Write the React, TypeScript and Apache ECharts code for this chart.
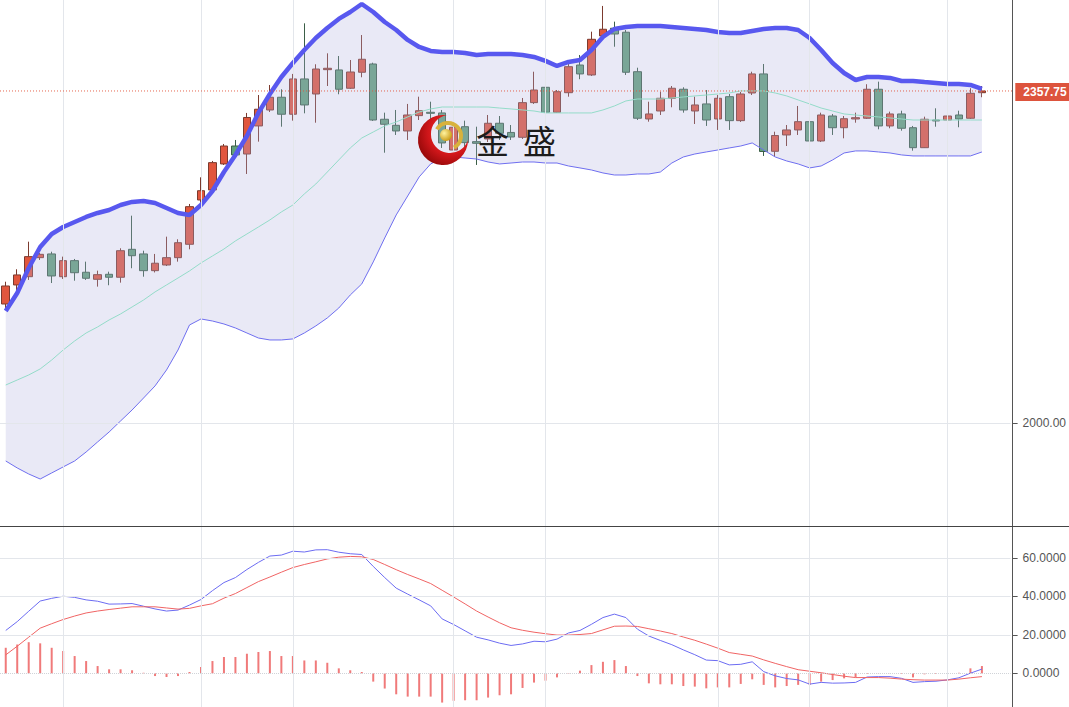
import React, { useEffect, useRef } from 'react';
import * as echarts from 'echarts';

// ---------- data ----------
const categories: string[] = [
  '1','2','3','4','5','6','7','8','9','10','11','12','13','14','15','16','17','18','19','20',
  '21','22','23','24','25','26','27','28','29','30','31','32','33','34','35','36','37','38','39','40',
  '41','42','43','44','45','46','47','48','49','50','51','52','53','54','55','56','57','58','59','60',
  '61','62','63','64','65','66','67','68','69','70','71','72','73','74','75','76','77','78','79','80',
  '81','82','83','84','85','86','87','88',
];

// [open, close, low, high]
const candles: number[][] = [
  [2128.4, 2147.8, 2124.1, 2152.4], [2148.9, 2159.7, 2143.5, 2165.8], [2157.8, 2179.4, 2154.3, 2195.5],
  [2178.3, 2181.9, 2175.8, 2183.3], [2182.3, 2158.6, 2151.0, 2184.7], [2157.8, 2175.1, 2155.4, 2179.4],
  [2175.1, 2162.1, 2153.5, 2176.9], [2162.6, 2156.1, 2154.3, 2174.0], [2155.0, 2160.0, 2147.1, 2164.3],
  [2160.4, 2157.2, 2148.6, 2163.2], [2157.2, 2185.8, 2151.4, 2188.4], [2187.3, 2180.4, 2166.9, 2223.5],
  [2182.3, 2164.3, 2157.8, 2185.8], [2164.3, 2172.3, 2162.4, 2182.3], [2170.4, 2178.3, 2169.3, 2200.9],
  [2178.3, 2194.4, 2174.0, 2198.1], [2192.7, 2233.2, 2187.3, 2236.1], [2240.4, 2250.4, 2237.2, 2264.8],
  [2251.2, 2280.6, 2250.1, 2282.4], [2279.2, 2298.5, 2278.1, 2300.7], [2298.5, 2288.9, 2286.7, 2305.0],
  [2289.9, 2329.2, 2268.4, 2334.1], [2320.1, 2338.1, 2303.2, 2353.4], [2337.3, 2351.0, 2335.1, 2364.2],
  [2351.0, 2332.7, 2319.3, 2359.6], [2332.7, 2370.7, 2325.8, 2376.1], [2370.7, 2342.7, 2333.7, 2430.6],
  [2354.5, 2381.4, 2323.6, 2386.5], [2380.7, 2382.2, 2363.1, 2398.3], [2380.4, 2359.6, 2354.2, 2395.4],
  [2360.7, 2378.2, 2359.9, 2391.1], [2377.9, 2391.9, 2372.5, 2418.0], [2386.8, 2326.5, 2325.5, 2388.2],
  [2327.3, 2321.9, 2291.3, 2334.4], [2320.8, 2314.7, 2310.4, 2337.3], [2314.7, 2331.9, 2305.0, 2343.8],
  [2331.2, 2336.5, 2326.5, 2351.6], [2334.8, 2333.7, 2321.1, 2346.2], [2334.1, 2301.8, 2296.4, 2337.3],
  [2294.2, 2318.7, 2285.6, 2324.4], [2319.3, 2302.1, 2294.2, 2325.8], [2303.2, 2301.4, 2278.1, 2319.3],
  [2306.1, 2323.0, 2302.8, 2331.9], [2323.0, 2312.2, 2305.0, 2330.8], [2313.1, 2308.2, 2305.0, 2321.1],
  [2307.9, 2345.2, 2306.1, 2350.2], [2345.2, 2358.8, 2343.8, 2378.5], [2361.7, 2334.8, 2331.9, 2364.2],
  [2334.8, 2357.0, 2334.1, 2358.8], [2355.9, 2383.9, 2351.6, 2389.0], [2385.7, 2376.1, 2370.4, 2396.5],
  [2375.0, 2413.4, 2373.9, 2421.6], [2417.0, 2424.2, 2415.9, 2449.3], [2425.3, 2419.1, 2405.4, 2432.4],
  [2421.0, 2377.9, 2375.0, 2423.4], [2378.5, 2328.4, 2326.5, 2382.8], [2327.6, 2333.0, 2324.7, 2346.2],
  [2336.2, 2349.9, 2331.9, 2357.0], [2349.9, 2360.7, 2340.2, 2363.1], [2359.6, 2337.3, 2334.4, 2361.7],
  [2336.2, 2342.7, 2322.2, 2351.6], [2343.8, 2326.5, 2320.1, 2358.8], [2327.6, 2349.9, 2315.8, 2353.4],
  [2351.6, 2325.8, 2315.8, 2354.5], [2325.8, 2354.5, 2324.4, 2356.7], [2355.6, 2376.1, 2353.4, 2378.5],
  [2376.1, 2292.6, 2287.8, 2386.8], [2292.8, 2309.8, 2287.2, 2313.9], [2310.4, 2315.8, 2298.5, 2321.1],
  [2315.8, 2324.7, 2310.4, 2341.6], [2324.7, 2303.9, 2295.0, 2326.5], [2303.9, 2331.9, 2302.8, 2334.4],
  [2330.8, 2318.2, 2310.4, 2333.0], [2318.2, 2327.9, 2306.8, 2330.8], [2327.6, 2329.0, 2323.6, 2334.4],
  [2328.4, 2359.6, 2327.6, 2365.0], [2359.6, 2320.1, 2316.5, 2367.8], [2320.1, 2333.0, 2317.6, 2335.5],
  [2333.0, 2317.6, 2315.0, 2336.5], [2318.2, 2296.7, 2293.5, 2320.1], [2296.7, 2327.3, 2296.4, 2330.1],
  [2326.5, 2325.5, 2319.3, 2339.1], [2326.5, 2330.8, 2318.7, 2337.3], [2331.9, 2327.6, 2318.7, 2336.5],
  [2328.4, 2355.3, 2327.6, 2360.7], [2355.9, 2357.75, 2351.0, 2363.1],
];

const bollUpper: number[] = [
  2120.9, 2140.3, 2167.2, 2189.8, 2203.8, 2211.3, 2216.7, 2222.1, 2226.4, 2229.6,
  2235.0, 2238.3, 2239.3, 2237.2, 2231.8, 2226.4, 2224.3, 2235.0, 2250.1, 2270.5,
  2288.9, 2309.3, 2334.1, 2354.5, 2372.8, 2387.9, 2401.9, 2414.8, 2425.6, 2435.3,
  2442.8, 2451.4, 2442.8, 2432.0, 2423.4, 2412.7, 2405.1, 2400.8, 2399.7, 2399.7,
  2398.7, 2396.5, 2397.6, 2397.6, 2397.6, 2396.5, 2394.4, 2390.1, 2384.7, 2389.0,
  2391.1, 2401.9, 2415.9, 2424.5, 2426.7, 2427.7, 2427.7, 2427.7, 2426.7, 2425.6,
  2424.5, 2423.4, 2421.3, 2420.2, 2420.2, 2422.4, 2424.5, 2425.6, 2425.6, 2423.4,
  2414.8, 2401.9, 2387.9, 2377.1, 2369.6, 2372.8, 2372.8, 2371.8, 2368.5, 2368.5,
  2367.4, 2366.4, 2365.3, 2365.3, 2364.2, 2359.9,
];

const bollMiddle: number[] = [
  2041.2, 2046.6, 2052.0, 2058.5, 2068.1, 2078.9, 2088.6, 2097.2, 2103.7, 2111.2,
  2117.7, 2125.2, 2132.7, 2141.4, 2148.9, 2156.4, 2164.0, 2172.6, 2180.1, 2187.6,
  2196.3, 2203.8, 2211.3, 2218.9, 2227.5, 2235.0, 2246.9, 2257.6, 2270.5, 2283.5,
  2296.4, 2307.1, 2313.6, 2320.1, 2324.4, 2329.8, 2335.1, 2338.4, 2340.5, 2340.5,
  2340.5, 2340.5, 2340.5, 2339.4, 2338.4, 2337.3, 2336.2, 2334.1, 2334.1, 2334.1,
  2334.1, 2334.1, 2337.3, 2341.6, 2347.0, 2349.1, 2349.1, 2349.1, 2350.2, 2351.3,
  2352.4, 2353.4, 2354.5, 2355.6, 2357.8, 2357.8, 2357.8, 2355.6, 2352.4, 2348.1,
  2343.8, 2339.4, 2336.2, 2333.0, 2331.9, 2330.8, 2329.8, 2328.7, 2327.6, 2326.5,
  2326.5, 2326.5, 2326.5, 2326.5, 2326.5, 2326.5,
];

const bollLower: number[] = [
  1959.4, 1951.9, 1945.4, 1940.0, 1946.5, 1953.0, 1959.4, 1969.1, 1979.9, 1990.6,
  2002.5, 2014.3, 2027.2, 2040.2, 2057.4, 2078.9, 2105.8, 2112.3, 2110.1, 2106.9,
  2102.6, 2097.2, 2091.8, 2089.7, 2089.7, 2090.8, 2097.2, 2104.8, 2113.4, 2124.1,
  2138.1, 2150.0, 2173.7, 2199.5, 2224.3, 2244.7, 2265.2, 2279.2, 2285.6, 2286.7,
  2285.6, 2284.5, 2281.3, 2279.2, 2280.2, 2281.3, 2281.3, 2280.2, 2280.2, 2277.0,
  2274.9, 2272.7, 2269.5, 2267.3, 2267.3, 2268.4, 2268.4, 2270.5, 2280.2, 2286.7,
  2289.9, 2292.1, 2294.2, 2296.4, 2298.5, 2301.8, 2294.2, 2286.7, 2282.4, 2279.2,
  2274.9, 2277.0, 2283.5, 2291.0, 2293.2, 2293.2, 2292.1, 2291.0, 2288.9, 2287.8,
  2287.8, 2287.8, 2287.8, 2287.8, 2287.8, 2292.1,
];

const macdDif: number[] = [
  22.3, 26.9, 32.3, 37.6, 39.0, 40.1, 39.5, 38.2, 37.5, 36.0,
  36.1, 36.3, 34.9, 33.5, 32.4, 32.9, 35.5, 38.4, 43.0, 47.2,
  49.8, 54.0, 57.7, 61.0, 61.5, 63.5, 63.1, 64.2, 64.3, 63.0,
  62.2, 61.8, 55.6, 49.8, 44.3, 41.2, 38.2, 35.1, 28.3, 25.4,
  22.1, 18.8, 17.4, 15.7, 14.5, 15.3, 16.7, 16.4, 17.8, 21.0,
  22.3, 25.5, 29.0, 30.8, 29.0, 23.0, 19.4, 17.1, 14.9, 12.2,
  9.7, 6.9, 6.6, 4.4, 4.7, 6.0, 0.9, -1.3, -2.7, -3.4,
  -5.6, -4.7, -5.1, -5.0, -4.7, -1.9, -1.7, -1.7, -2.6, -4.7,
  -4.3, -4.1, -3.4, -2.3, 0.1, 2.2,
];

const macdDea: number[] = [
  9.6, 14.1, 18.8, 23.5, 25.8, 28.0, 29.8, 31.4, 32.4, 33.2,
  33.9, 34.6, 34.6, 34.6, 34.0, 33.4, 33.8, 35.1, 36.2, 39.1,
  41.5, 44.6, 47.7, 50.1, 52.6, 55.0, 56.6, 58.0, 59.5, 60.4,
  60.8, 60.6, 59.2, 56.6, 53.9, 51.4, 49.1, 46.7, 43.2, 39.7,
  36.1, 32.4, 29.3, 26.3, 23.7, 22.4, 21.4, 20.6, 19.9, 19.9,
  20.2, 20.7, 22.6, 24.5, 24.6, 24.4, 23.2, 22.0, 20.7, 18.9,
  17.2, 15.2, 13.1, 10.8, 9.9, 9.0, 7.0, 5.2, 3.5, 1.9,
  1.1, 0.3, -0.6, -1.5, -2.2, -2.2, -2.2, -2.5, -3.0, -3.3,
  -3.5, -3.5, -3.5, -3.0, -2.3, -1.7,
];

const macdHist: number[] = [
  13.3, 15.0, 16.2, 15.6, 13.3, 11.6, 9.0, 6.4, 3.8, 2.1,
  2.1, 1.6, 0.3, -1.4, -1.9, -1.4, 0.7, 3.3, 6.4, 8.5,
  8.5, 10.2, 11.1, 11.6, 9.0, 9.0, 6.7, 6.7, 5.5, 2.6,
  1.6, 0.7, -4.3, -7.9, -10.9, -12.1, -12.1, -12.1, -15.2, -14.3,
  -14.0, -14.0, -12.6, -11.4, -10.9, -7.6, -4.8, -3.8, -2.1, -0.3,
  1.4, 4.3, 6.0, 6.9, 3.8, -1.4, -5.2, -5.7, -5.7, -6.6,
  -6.9, -7.8, -7.3, -7.3, -5.5, -3.1, -6.0, -7.3, -6.6, -6.0,
  -6.0, -4.3, -3.5, -2.6, -2.1, -0.3, 0.1, 0.1, -0.3, -2.1,
  -0.5, -0.3, 0.1, 0.3, 2.6, 3.8,
];

const lastPrice = 2357.75;
const priceTicks: number[] = [2000];
const macdTicks: number[] = [0, 20, 40, 60];
const macdGridLines: number[] = [20, 40, 60];
const verticalGridIdx: number[] = [5, 17, 25, 39, 47, 62, 70, 82];

const CRESCENT = 'M28.74 0.29 A25 25 0 1 0 50 25 A19 19 0 1 1 28.74 0.29 Z';
const FONT = '"Liberation Sans", Arial, sans-serif';
const PRICE_RED = '#e2573d';

export default function App() {
  const ref = useRef<HTMLDivElement>(null);

  useEffect(() => {
    if (!ref.current) return;
    echarts.graphic.registerShape('logo', echarts.graphic.extendPath(CRESCENT, {}));
    const chart = echarts.init(ref.current, null, { renderer: 'svg' });

    const bandWidth = bollUpper.map((u, i) => +(u - bollLower[i]).toFixed(2));
    const vLines = verticalGridIdx.map((i) => ({ xAxis: i }));
    const gridLineStyle = { color: '#e3e6eb', width: 1, type: 'solid' };

    const gridLeft = -1.6;
    const gridWidth = 1012.9;

    const option: any = {
      animation: false,
      backgroundColor: '#ffffff',
      grid: [
        { left: gridLeft, top: 0, width: gridWidth, height: 526 },
        { left: gridLeft, top: 527, width: gridWidth, height: 180 },
      ],
      xAxis: [
        { type: 'category', gridIndex: 0, data: categories, boundaryGap: true, show: false },
        { type: 'category', gridIndex: 1, data: categories, boundaryGap: true, show: false },
      ],
      yAxis: [
        {
          type: 'value', gridIndex: 0, position: 'right', offset: 2,
          min: 1889.4, max: 2455.7,
          axisLine: { show: true, lineStyle: { color: '#555555', width: 1 } },
          axisTick: { show: true, length: 5, customValues: priceTicks, lineStyle: { color: '#555555' } },
          axisLabel: {
            customValues: priceTicks, margin: 10, color: '#555555', fontSize: 12, fontFamily: FONT,
            formatter: (v: number) => v.toFixed(2),
          },
          splitLine: { show: false },
        },
        {
          type: 'value', gridIndex: 1, position: 'right', offset: 2,
          min: -17.5, max: 76.1,
          axisLine: { show: true, lineStyle: { color: '#555555', width: 1 } },
          axisTick: { show: true, length: 5, customValues: macdTicks, lineStyle: { color: '#555555' } },
          axisLabel: {
            customValues: macdTicks, margin: 10, color: '#555555', fontSize: 12, fontFamily: FONT,
            formatter: (v: number) => v.toFixed(4),
          },
          splitLine: { show: false },
        },
      ],
      series: [
        {
          name: 'bandBase', type: 'line', xAxisIndex: 0, yAxisIndex: 0, data: bollLower,
          stack: 'boll', symbol: 'none', silent: true, lineStyle: { opacity: 0 },
        },
        {
          name: 'bandFill', type: 'line', xAxisIndex: 0, yAxisIndex: 0, data: bandWidth,
          stack: 'boll', symbol: 'none', silent: true, lineStyle: { opacity: 0 },
          areaStyle: { color: 'rgba(178,178,224,0.41)' },
        },
        {
          name: 'MID', type: 'line', xAxisIndex: 0, yAxisIndex: 0, data: bollMiddle,
          symbol: 'none', silent: true, lineStyle: { color: '#94dcc9', width: 1 },
          markLine: {
            silent: true, symbol: 'none', label: { show: false }, lineStyle: gridLineStyle,
            data: [...vLines, ...priceTicks.map((v) => ({ yAxis: v }))],
          },
        },
        {
          name: 'LOWER', type: 'line', xAxisIndex: 0, yAxisIndex: 0, data: bollLower,
          symbol: 'none', silent: true, lineStyle: { color: '#6f6ff0', width: 1 },
        },
        {
          name: 'UPPER', type: 'line', xAxisIndex: 0, yAxisIndex: 0, data: bollUpper,
          symbol: 'none', silent: true, lineStyle: { color: '#5858ef', width: 4.5 },
        },
        {
          name: 'K', type: 'candlestick', xAxisIndex: 0, yAxisIndex: 0, data: candles,
          barWidth: 8,
          itemStyle: {
            color: '#e1563d', color0: '#62a27b',
            borderColor: '#7c3a2e', borderColor0: '#3b5f47', borderWidth: 1,
          },
        },
        {
          name: 'MACD', type: 'bar', xAxisIndex: 1, yAxisIndex: 1, data: macdHist,
          barWidth: 2, silent: true, itemStyle: { color: '#f07a7a' },
          markLine: {
            silent: true, symbol: 'none', label: { show: false }, lineStyle: gridLineStyle,
            data: [
              ...vLines,
              ...macdGridLines.map((v) => ({ yAxis: v })),
              { yAxis: 0, lineStyle: { color: '#d0d3d8', type: 'dotted', width: 1 } },
            ],
          },
        },
        {
          name: 'DIF', type: 'line', xAxisIndex: 1, yAxisIndex: 1, data: macdDif,
          symbol: 'none', silent: true, lineStyle: { color: '#6c6cf2', width: 1 },
        },
        {
          name: 'DEA', type: 'line', xAxisIndex: 1, yAxisIndex: 1, data: macdDea,
          symbol: 'none', silent: true, lineStyle: { color: '#f06464', width: 1 },
        },
      ],
    };

    chart.setOption(option);

    // price level position from the library's own scale
    const py = chart.convertToPixel({ yAxisIndex: 0 }, lastPrice) as number;
    const axisX = gridLeft + gridWidth + 2;

    chart.setOption({
      graphic: [
        {
          type: 'line', silent: true, z: 40,
          shape: { x1: 0, y1: py, x2: axisX, y2: py },
          style: { stroke: PRICE_RED, lineWidth: 1, lineDash: [1, 2], opacity: 0.9 },
        },
        {
          type: 'text', silent: true, z: 41, x: axisX + 2, y: py + 1,
          style: {
            text: lastPrice.toFixed(2), fill: '#ffffff', fontSize: 12, fontWeight: 'bold',
            fontFamily: FONT, align: 'left', verticalAlign: 'middle',
            backgroundColor: '#dd543d', padding: [3, 8, 3, 8],
          },
        },
        {
          type: 'line', silent: true, z: 50,
          shape: { x1: 0, y1: 526.5, x2: 1069, y2: 526.5 },
          style: { stroke: '#444444', lineWidth: 1 },
        },
        {
          type: 'logo', x: 418, y: 115, z: 60, silent: true,
          style: {
            fill: new echarts.graphic.RadialGradient(0.65, 0.35, 0.75, [
              { offset: 0, color: '#ff3b2c' },
              { offset: 0.6, color: '#d0161a' },
              { offset: 1, color: '#8e0707' },
            ]),
          },
        },
        {
          type: 'arc', z: 61, silent: true,
          shape: { cx: 448, cy: 136, r: 13, startAngle: -2.6, endAngle: 1.1, clockwise: true },
          style: { stroke: '#d8b23c', lineWidth: 4, fill: 'none' },
        },
        {
          type: 'circle', z: 62, silent: true,
          shape: { cx: 446, cy: 135, r: 6 },
          style: {
            fill: new echarts.graphic.RadialGradient(0.35, 0.35, 0.7, [
              { offset: 0, color: '#fff3a0' },
              { offset: 1, color: '#c99a12' },
            ]),
          },
        },
        {
          type: 'text', x: 476, y: 140, z: 60, silent: true,
          style: {
            text: '金', fontSize: 33, fontFamily: '"Noto Sans CJK SC", sans-serif',
            fill: '#1c1c1c', align: 'left', verticalAlign: 'middle',
          },
        },
        {
          type: 'text', x: 523, y: 140, z: 60, silent: true,
          style: {
            text: '盛', fontSize: 33, fontFamily: '"Noto Sans CJK SC", sans-serif',
            fill: '#1c1c1c', align: 'left', verticalAlign: 'middle',
          },
        },
      ],
    });

    return () => chart.dispose();
  }, []);

  return (
    <div
      ref={ref}
      style={{ position: 'fixed', left: 0, top: 0, width: 1069, height: 707 }}
    />
  );
}
